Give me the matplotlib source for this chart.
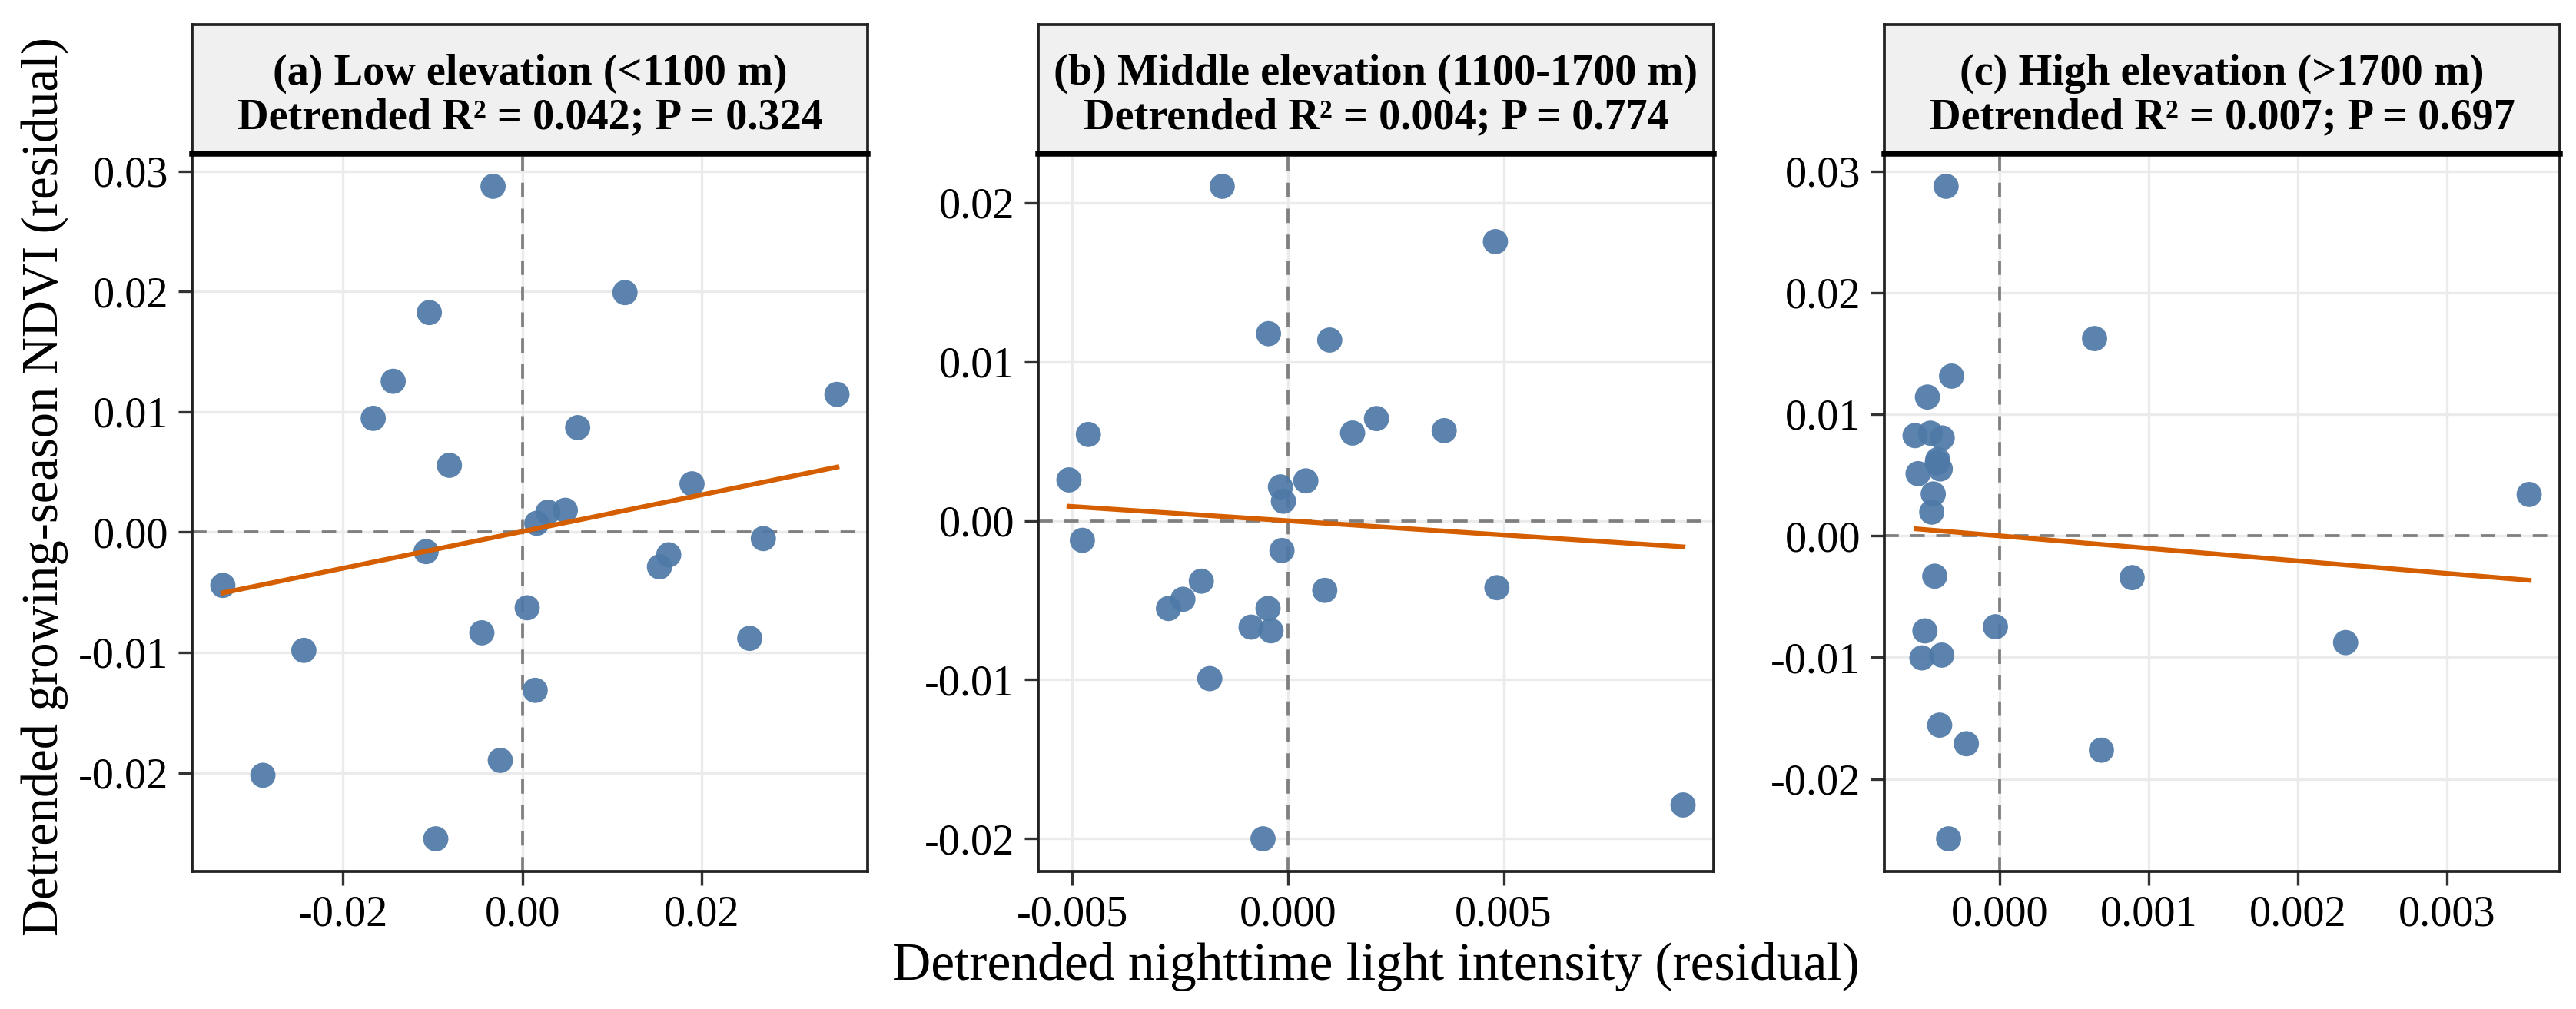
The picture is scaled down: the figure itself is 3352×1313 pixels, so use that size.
import numpy as np
import matplotlib
matplotlib.use("Agg")
import matplotlib.pyplot as plt
from matplotlib.ticker import FormatStrFormatter, MultipleLocator

plt.rcParams['font.family'] = ['Liberation Serif', 'DejaVu Serif']
plt.rcParams['axes.unicode_minus'] = False

# (a) low elevation
a_x = [-0.00327, 0.01145, -0.01038, -0.01441, -0.01664, 0.00617, -0.00814, 0.01893,
       0.00286, 0.00479, 0.00161, 0.02689, -0.01074, 0.01633, 0.01530, -0.03342,
       0.00054, -0.00452, 0.02537, -0.02438, 0.00143, -0.00246, -0.02895, -0.00966, 0.03510]
a_y = [0.02873, 0.01990, 0.01824, 0.01253, 0.00945, 0.00868, 0.00555, 0.00401,
       0.00166, 0.00181, 0.00073, -0.00054, -0.00162, -0.00189, -0.00289, -0.00443,
       -0.00629, -0.00837, -0.00883, -0.00983, -0.01315, -0.01897, -0.02021, -0.02549, 0.01144]

# (b) middle elevation
b_x = [-0.001523, 0.00481, -0.00045, 0.000969, 0.002053, 0.001499, 0.003622, -0.004625,
       -0.005075, 0.000415, -0.000173, -0.000104, -0.004764, -0.000138, -0.002007, -0.002434,
       -0.002768, 0.000854, 0.004844, -0.000461, -0.000854, -0.000392, -0.001811, 0.009158, -0.000577]
b_y = [0.02104, 0.01756, 0.01177, 0.01137, 0.00643, 0.00552, 0.00567, 0.00543,
       0.00257, 0.00251, 0.00213, 0.00123, -0.00123, -0.00187, -0.00380, -0.00494,
       -0.00552, -0.00438, -0.00421, -0.00552, -0.00669, -0.00692, -0.00993, -0.01788, -0.02001]

# (c) high elevation
c_x = [-0.000361, 0.000635, -0.000324, -0.000486, -0.000569, -0.000466, -0.000387, -0.000417,
       -0.000400, -0.000549, -0.000447, -0.000457, 0.003550, -0.000437, 0.000887, -0.000030,
       -0.000503, -0.000523, -0.000390, 0.002319, -0.000404, -0.000225, 0.000681, -0.000344, -0.000420]
c_y = [0.02874, 0.01622, 0.01313, 0.01141, 0.00824, 0.00844, 0.00805, 0.00626,
       0.00550, 0.00511, 0.00344, 0.00195, 0.00340, -0.00332, -0.00344, -0.00748,
       -0.00782, -0.01004, -0.00981, -0.00878, -0.01557, -0.01710, -0.01763, -0.02492, 0.00600]

# fitted lines: (x0, y0, x1, y1)
fit_a = [-0.03342, -0.00505, 0.03510, 0.00540]
fit_b = [-0.005075, 0.00091, 0.009158, -0.00164]
fit_c = [-0.000559, 0.00057, 0.003550, -0.00366]

titles = ["(a) Low elevation (<1100 m)", "(b) Middle elevation (1100-1700 m)", "(c) High elevation (>1700 m)"]
stats = ["Detrended R\u00b2 = 0.042; P = 0.324", "Detrended R\u00b2 = 0.004; P = 0.774",
         "Detrended R\u00b2 = 0.007; P = 0.697"]
x_step = [0.02, 0.005, 0.001]
x_fmt = ['%.2f', '%.3f', '%.3f']

W, H = 3353, 1313
fig = plt.figure(figsize=(W / 300, H / 300), dpi=300)

lefts = [250, 1351, 2452]
pw = 879
top, bot = 200, 1134
strip_top = 32

panels = [(a_x, a_y, fit_a), (b_x, b_y, fit_b), (c_x, c_y, fit_c)]
for i, (xs, ys, fit) in enumerate(panels):
    ax = fig.add_axes([lefts[i] / W, 1 - bot / H, pw / W, (bot - top) / H])
    ax.scatter(xs, ys, s=62, color='#4E79A7', alpha=0.92, edgecolors='none', zorder=3)
    ax.margins(0.05)
    ax.axhline(0, color='#7F7F7F', lw=0.9, ls=(0, (5, 4)), zorder=2)
    ax.axvline(0, color='#7F7F7F', lw=0.9, ls=(0, (5, 4)), zorder=2)
    ax.plot([fit[0], fit[2]], [fit[1], fit[3]], color='#D55E00', lw=1.5, zorder=4)
    ax.xaxis.set_major_locator(MultipleLocator(x_step[i]))
    ax.yaxis.set_major_locator(MultipleLocator(0.01))
    ax.xaxis.set_major_formatter(FormatStrFormatter(x_fmt[i]))
    ax.yaxis.set_major_formatter(FormatStrFormatter('%.2f'))
    ax.grid(True, color='#EBEBEB', lw=0.8, zorder=0)
    ax.set_axisbelow(True)
    for sp in ax.spines.values():
        sp.set_linewidth(0.9)
        sp.set_color('#222222')
    ax.tick_params(length=4.3, width=0.8, color='#333333', labelsize=13.5, pad=3, labelcolor='black')

    sax = fig.add_axes([lefts[i] / W, 1 - top / H, pw / W, (top - strip_top) / H])
    sax.set_facecolor('#F0F0F0')
    sax.set_xticks([])
    sax.set_yticks([])
    for sp in sax.spines.values():
        sp.set_linewidth(0.9)
        sp.set_color('#222222')
    sax.spines['bottom'].set_linewidth(1.8)
    sax.spines['bottom'].set_color('black')
    sax.text(0.5, 0.62, titles[i], ha='center', va='center', fontsize=13.5, fontweight='bold',
             transform=sax.transAxes)
    sax.text(0.5, 0.28, stats[i], ha='center', va='center', fontsize=13.5, fontweight='bold',
             transform=sax.transAxes)

fig.text((lefts[0] + lefts[2] + pw) / 2 / W, 1 - 1258 / H, "Detrended nighttime light intensity (residual)",
         ha='center', va='center', fontsize=16.7)
fig.text(58 / W, 1 - 633 / H, "Detrended growing-season NDVI (residual)",
         ha='center', va='center', rotation=90, fontsize=16)

fig.savefig("out.png", dpi=300)
